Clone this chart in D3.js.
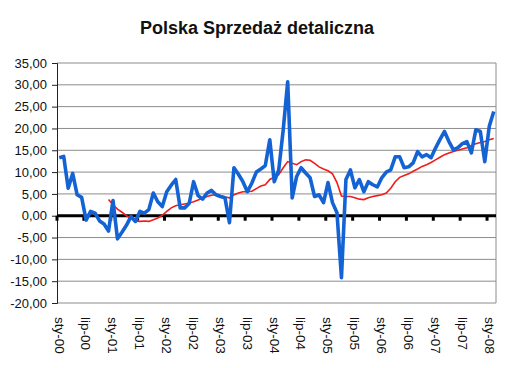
<!DOCTYPE html>
<html>
<head>
<meta charset="utf-8">
<script src="https://cdn.jsdelivr.net/npm/d3@7"></script>
<style>
  body { margin: 0; background: #fff; }
  svg { display: block; font-family: "Liberation Sans", Arial, sans-serif; }
</style>
</head>
<body>
<div id="chart-area"></div>
<script>
// month names and years -> categories sty-00 .. lut-08
const miesiace = ["sty", "lut", "mar", "kwi", "maj", "cze", "lip", "sie", "wrz", "paź", "lis", "gru"];
const lata = ["00", "01", "02", "03", "04", "05", "06", "07", "08"];

// retail sales, % y/y (blue)
const sprzedaz = [
  13.3, 13.6, 6.3, 9.7, 4.8, 4.2, -1.0, 1.0, 0.6, -1.2, -1.9, -3.5,
  3.5, -5.3, -3.8, -2.2, -0.2, -1.3, 1.0, 0.6, 1.4, 5.2, 3.2, 2.1,
  5.5, 7.0, 8.3, 1.8, 1.8, 2.8, 7.8, 4.6, 3.8, 5.2, 5.8, 4.8,
  4.4, 4.1, -1.6, 11.0, 9.5, 7.8, 5.5, 7.5, 10.0, 10.7, 11.5, 17.4,
  7.8, 10.5, 19.7, 30.7, 4.1, 9.0, 11.0, 9.8, 8.7, 4.4, 4.8, 3.0,
  7.6, 3.0, 0.7, -14.2, 8.3, 10.5, 6.4, 8.3, 5.5, 7.8, 7.1, 6.6,
  8.7, 10.0, 10.5, 13.5, 13.5, 11.0, 11.2, 12.1, 14.7, 13.5, 14.0, 13.3,
  15.5, 17.5, 19.3, 17.0, 15.1, 15.6, 16.5, 17.0, 14.4, 19.7, 19.3, 12.4,
  20.5, 23.9
];

// 12-month average (red)
const srednia = [
  null, null, null, null, null, null, null, null, null, null, null, 3.7,
  2.5, 1.5, 0.8, 0.0, -0.6, -1.2, -1.3, -1.2, -1.3, -0.9, -0.5, 0.1,
  1.0, 1.8, 2.3, 2.5, 2.7, 2.9, 3.2, 3.6, 4.0, 4.4, 4.7, 4.8,
  4.6, 4.3, 4.1, 4.8, 5.2, 5.5, 5.5, 5.6, 6.2, 6.8, 7.1, 8.3,
  8.8, 9.4, 11.0, 12.4, 12.0, 11.7, 12.4, 12.8, 12.7, 12.0, 11.2, 10.7,
  10.3, 9.6, 7.6, 4.5, 4.4, 4.4, 4.1, 3.8, 3.7, 4.1, 4.4, 4.6,
  4.8, 5.2, 6.3, 7.8, 8.8, 9.2, 9.6, 10.2, 10.7, 11.3, 11.7, 12.2,
  12.8, 13.4, 14.0, 14.4, 14.7, 15.0, 15.3, 15.6, 16.1, 16.5, 16.8, 17.0,
  17.4, 17.7
];

const yTicks = [-20, -15, -10, -5, 0, 5, 10, 15, 20, 25, 30, 35];

const kategorie = [];
lata.forEach((r) => {
    miesiace.forEach((m) => {
        if (kategorie.length < sprzedaz.length) kategorie.push(m + "-" + r);
    });
});
// label every 6th month
const xLabels = kategorie.filter((d, i) => i % 6 === 0);

const width = 520, height = 368;
const plotLeft = 57, plotRight = 496, plotTop = 63, plotBottom = 303;

const svg = d3.select("#chart-area")
    .append("svg")
        .attr("width", width)
        .attr("height", height);

const x = d3.scaleBand().domain(kategorie).range([plotLeft, plotRight]);
const y = d3.scaleLinear().domain([-20, 35]).range([plotBottom, plotTop]);
const cx = (d) => x(d) + x.bandwidth() / 2;

// grid lines
svg.append("g")
    .selectAll("line")
    .data(yTicks)
    .enter()
    .append("line")
        .attr("x1", plotLeft)
        .attr("x2", plotRight)
        .attr("y1", (d) => y(d))
        .attr("y2", (d) => y(d))
        .attr("stroke", "#8c8c8c")
        .attr("stroke-width", 1);

// right border
svg.append("line")
    .attr("x1", plotRight).attr("x2", plotRight)
    .attr("y1", plotTop).attr("y2", plotBottom)
    .attr("stroke", "#8c8c8c");

// y axis
const yAxis = svg.append("g")
    .attr("transform", `translate(${plotLeft},0)`)
    .call(d3.axisLeft(y)
        .tickValues(yTicks)
        .tickSize(5)
        .tickPadding(5)
        .tickFormat((d) => d.toFixed(2).replace(".", ",")));
yAxis.select(".domain").attr("stroke", "#222");
yAxis.selectAll(".tick line").attr("stroke", "#222");
yAxis.selectAll("text")
    .attr("font-size", 13)
    .attr("fill", "#111")
    .attr("font-family", "Liberation Sans, Arial, sans-serif");

// zero line with ticks at category boundaries
const tickIdx = d3.range(0, kategorie.length, 6);
svg.append("g")
    .selectAll("rect")
    .data(tickIdx)
    .enter()
    .append("rect")
        .attr("x", (d) => x(kategorie[d]) - 1.5)
        .attr("y", y(0))
        .attr("width", 3)
        .attr("height", 5)
        .attr("fill", "#000");

svg.append("line")
    .attr("x1", plotLeft).attr("x2", plotRight)
    .attr("y1", y(0)).attr("y2", y(0))
    .attr("stroke", "#000")
    .attr("stroke-width", 3);

// x labels
svg.append("g")
    .selectAll("text")
    .data(xLabels)
    .enter()
    .append("text")
        .attr("transform", (d) => `translate(${cx(d)},${plotBottom + 14}) rotate(90)`)
        .attr("dy", "0.35em")
        .attr("font-size", 13.5)
        .attr("fill", "#111")
        .text((d) => d);

// lines
const line = d3.line()
    .defined((d) => d !== null)
    .x((d, i) => cx(kategorie[i]))
    .y((d) => y(d));

svg.append("path")
    .datum(srednia)
    .attr("fill", "none")
    .attr("stroke", "#ee1c1c")
    .attr("stroke-width", 1.6)
    .attr("d", line);

svg.append("path")
    .datum(sprzedaz)
    .attr("fill", "none")
    .attr("stroke", "#1463d4")
    .attr("stroke-width", 3.6)
    .attr("stroke-linejoin", "round")
    .attr("d", line);

// title
svg.append("text")
    .attr("x", 257)
    .attr("y", 34)
    .attr("text-anchor", "middle")
    .attr("font-size", 18)
    .attr("font-weight", "bold")
    .attr("fill", "#111")
    .text("Polska Sprzedaż detaliczna");
</script>
</body>
</html>
